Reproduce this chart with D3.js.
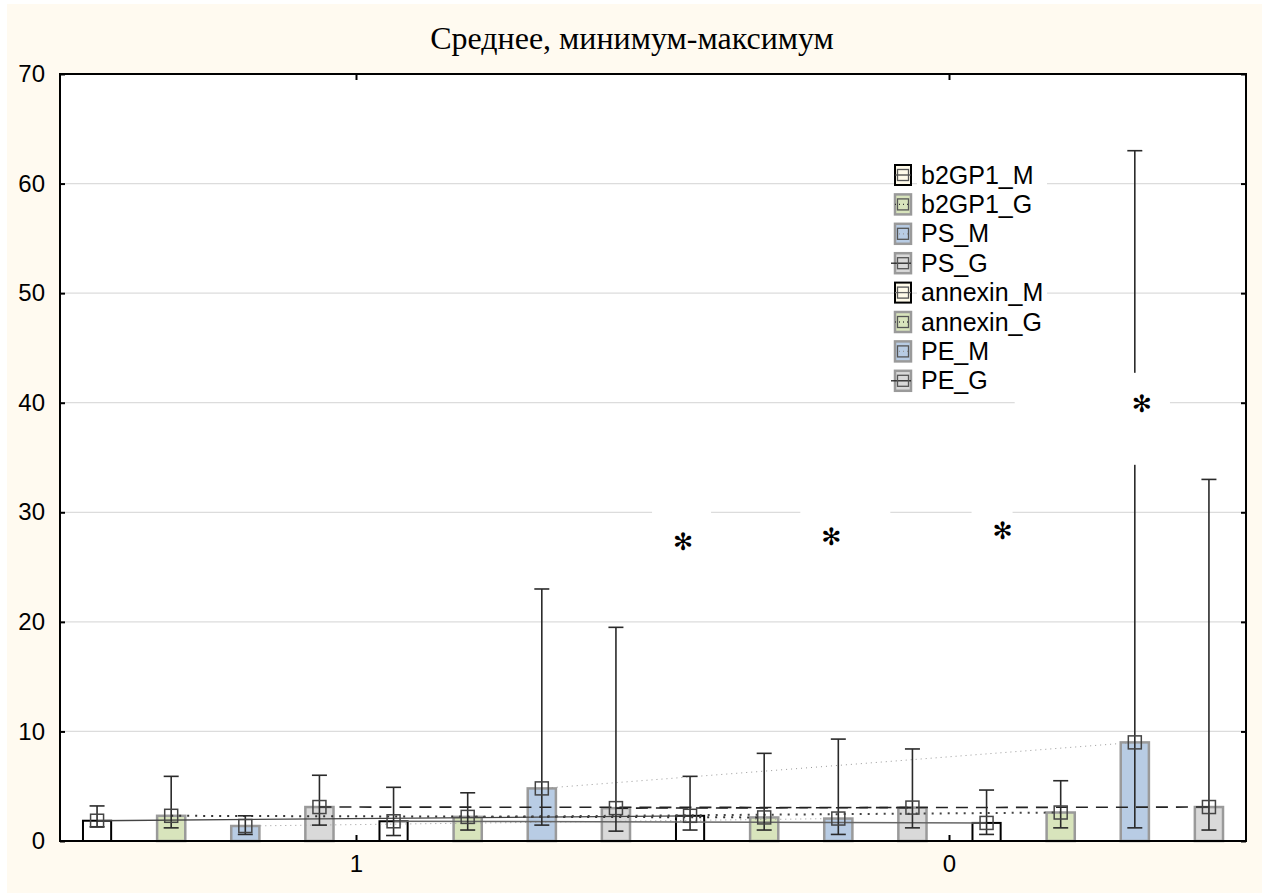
<!DOCTYPE html>
<html>
<head>
<meta charset="utf-8">
<script src="https://cdn.jsdelivr.net/npm/d3@7"></script>
<style>
  body { margin: 0; background: #ffffff; }
  text { font-family: "Liberation Sans", Arial, sans-serif; }
</style>
</head>
<body>
<div id="chart"></div>
<script>
// categories on the x axis and the eight variables
var categories = ["1", "0"];
var seriesNames = ["b2GP1_M", "b2GP1_G", "PS_M", "PS_G", "annexin_M", "annexin_G", "PE_M", "PE_G"];

// mean, minimum, maximum for category "1"
var mean1 = [1.85, 2.3, 1.37, 3.1, 1.8, 2.2, 4.8, 3.0];
var min1  = [1.3, 1.2, 0.6, 1.45, 0.5, 1.0, 1.45, 0.9];
var max1  = [3.2, 5.9, 2.3, 6.0, 4.9, 4.4, 23.0, 19.5];

// mean, minimum, maximum for category "0"
var mean0 = [2.3, 2.15, 2.05, 3.05, 1.65, 2.6, 9.0, 3.1];
var min0  = [1.0, 1.0, 0.6, 1.2, 0.6, 1.2, 1.2, 1.0];
var max0  = [5.9, 8.0, 9.3, 8.4, 4.65, 5.5, 63.0, 33.0];

var yTicks = [0, 10, 20, 30, 40, 50, 60, 70];

// significance marks (series, category, y value)
var starSeries = ["b2GP1_M", "PS_M", "annexin_M", "PE_M"];
var starValues = [27.3, 27.7, 28.3, 39.9];

var svgWidth = 1262, svgHeight = 895;
var margin = { top: 74, right: 16, bottom: 54, left: 60 };
var width = svgWidth - margin.left - margin.right;
var height = svgHeight - margin.top - margin.bottom;

// style per series
var barFill = ["#ffffff", "#d8e4bc", "#b8cce4", "#d9d9d9", "#ffffff", "#d8e4bc", "#b8cce4", "#d9d9d9"];
var barStroke = ["#000", "#9a9a9a", "#9a9a9a", "#9a9a9a", "#000", "#9a9a9a", "#9a9a9a", "#9a9a9a"];
var barStrokeW = [2, 2.5, 2.5, 2.5, 2, 2.5, 2.5, 2.5];
var lineColor = ["#444", "#333", "#999", "#222", "#666", "#444", "#999", "#222"];
var lineWidth = [1.3, 2, 1, 1.6, 1.5, 2, 1, 1.6];
var lineDash = [null, "2,6", "1,4", "12,8", null, "2,6", "1,4", "12,8"];

var rows = [];
categories.forEach(function(c, ci) {
    seriesNames.forEach(function(s, si) {
        rows.push({
            cat: c, series: s, si: si,
            mean: ci === 0 ? mean1[si] : mean0[si],
            min: ci === 0 ? min1[si] : min0[si],
            max: ci === 0 ? max1[si] : max0[si]
        });
    });
});

var svg = d3.select("#chart").append("svg")
    .attr("width", svgWidth)
    .attr("height", svgHeight);

svg.append("rect")
    .attr("x", 7).attr("y", 4)
    .attr("width", svgWidth - 7).attr("height", svgHeight - 6)
    .attr("fill", "#fffaf0");

svg.append("text")
    .attr("x", 632).attr("y", 49)
    .attr("text-anchor", "middle")
    .style("font-family", "'Liberation Serif', 'Times New Roman', serif")
    .style("font-size", "32px")
    .text("Среднее, минимум-максимум");

var g = svg.append("g")
    .attr("transform", "translate(" + margin.left + "," + margin.top + ")");

g.append("rect")
    .attr("width", width).attr("height", height)
    .attr("fill", "#ffffff");

var x0 = d3.scaleBand().domain(categories).range([0, width]);
var x1 = d3.scaleBand().domain(seriesNames).range([0, x0.bandwidth()]);
var y = d3.scaleLinear().domain([0, 70]).range([height, 0]);

var barW = x1.bandwidth() * 0.38;
function cx(d) { return x0(d.cat) + x1(d.series) + x1.bandwidth() / 2; }

// grid
g.append("g").selectAll("line")
    .data(yTicks.filter(function(t) { return t > 0 && t < 70; }))
    .enter().append("line")
    .attr("x1", 0).attr("x2", width)
    .attr("y1", function(d) { return y(d); })
    .attr("y2", function(d) { return y(d); })
    .attr("stroke", "#dcdcdc").attr("stroke-width", 1.2);

// bars
g.append("g").selectAll("rect")
    .data(rows)
    .enter().append("rect")
    .attr("x", function(d) { return cx(d) - barW / 2; })
    .attr("y", function(d) { return y(d.mean); })
    .attr("width", barW)
    .attr("height", function(d) { return y(0) - y(d.mean); })
    .attr("fill", function(d) { return barFill[d.si]; })
    .attr("stroke", function(d) { return barStroke[d.si]; })
    .attr("stroke-width", function(d) { return barStrokeW[d.si]; });

// lines joining the means of each series
var line = d3.line().x(function(d) { return cx(d); }).y(function(d) { return y(d.mean); });
seriesNames.forEach(function(s, si) {
    g.append("path")
        .datum(rows.filter(function(r) { return r.series === s; }))
        .attr("d", line)
        .attr("fill", "none")
        .attr("stroke", lineColor[si])
        .attr("stroke-width", lineWidth[si])
        .attr("stroke-dasharray", lineDash[si]);
});

// white boxes behind the star marks: [left, right, above, below] in px around the mark
var starBoxes = [[-38, 21, 32, 60], [-38, 52, 32, 60], [-15, 26, 32, 60], [-120, 35, 31, 61]];
var starShift = [-7, -7, 16, 7];
var stars = starSeries.map(function(s, i) {
    return { cat: "0", series: s, value: starValues[i], box: starBoxes[i], dx: starShift[i] };
});
g.append("g").selectAll("rect")
    .data(stars)
    .enter().append("rect")
    .attr("x", function(d) { return cx(d) + d.box[0]; })
    .attr("y", function(d) { return y(d.value) - d.box[2]; })
    .attr("width", function(d) { return d.box[1] - d.box[0]; })
    .attr("height", function(d) { return d.box[2] + d.box[3]; })
    .attr("fill", "#ffffff");

// whiskers
var eb = g.append("g").attr("stroke", "#2a2a2a").attr("stroke-width", 1.6);
eb.selectAll(".v").data(rows).enter().append("line")
    .attr("x1", cx).attr("x2", cx)
    .attr("y1", function(d) { return y(d.min); })
    .attr("y2", function(d) { return y(d.max); });
eb.selectAll(".lo").data(rows).enter().append("line")
    .attr("x1", function(d) { return cx(d) - 7.5; }).attr("x2", function(d) { return cx(d) + 7.5; })
    .attr("y1", function(d) { return y(d.min); }).attr("y2", function(d) { return y(d.min); });
eb.selectAll(".hi").data(rows).enter().append("line")
    .attr("x1", function(d) { return cx(d) - 7.5; }).attr("x2", function(d) { return cx(d) + 7.5; })
    .attr("y1", function(d) { return y(d.max); }).attr("y2", function(d) { return y(d.max); });

// white box cut over the long PE_M whisker
g.append("rect")
    .datum(stars[3])
    .attr("x", function(d) { return cx(d) + d.box[0]; })
    .attr("y", function(d) { return y(d.value) - d.box[2]; })
    .attr("width", function(d) { return d.box[1] - d.box[0]; })
    .attr("height", function(d) { return d.box[2] + d.box[3]; })
    .attr("fill", "#ffffff");

// mean markers
g.append("g").selectAll("rect")
    .data(rows)
    .enter().append("rect")
    .attr("x", function(d) { return cx(d) - 6.5; })
    .attr("y", function(d) { return y(d.mean) - 6.5; })
    .attr("width", 13).attr("height", 13)
    .attr("fill", "none")
    .attr("stroke", "#444").attr("stroke-width", 1.5);

// star marks
g.append("g").selectAll("text")
    .data(stars)
    .enter().append("text")
    .attr("x", function(d) { return cx(d) + d.dx; })
    .attr("y", function(d) { return y(d.value); })
    .attr("text-anchor", "middle")
    .attr("dominant-baseline", "central")
    .style("font-family", "'DejaVu Sans', sans-serif")
    .style("font-size", "24px")
    .attr("fill", "#000")
    .text("\u273B");

// axes frame and ticks
g.append("rect")
    .attr("width", width).attr("height", height)
    .attr("fill", "none").attr("stroke", "#000").attr("stroke-width", 2);

var yAxisL = g.append("g").call(d3.axisLeft(y).tickValues(yTicks).tickSize(-5).tickPadding(15));
var yAxisR = g.append("g").attr("transform", "translate(" + width + ",0)")
    .call(d3.axisRight(y).tickValues(yTicks).tickSize(-5).tickFormat(""));
var xAxisB = g.append("g").attr("transform", "translate(0," + height + ")")
    .call(d3.axisBottom(x0).tickSize(-6).tickPadding(14));
var xAxisT = g.append("g")
    .call(d3.axisTop(x0).tickSize(-6).tickFormat(""));
[yAxisL, yAxisR, xAxisB, xAxisT].forEach(function(a) {
    a.select(".domain").remove();
    a.selectAll(".tick line").attr("stroke", "#000").attr("stroke-width", 2);
    a.selectAll("text").style("font-family", "'Liberation Sans', Arial, sans-serif")
        .style("font-size", "24px").attr("fill", "#000");
});

// legend
var legend = svg.append("g").attr("transform", "translate(893,175)");
var item = legend.selectAll("g").data(seriesNames).enter().append("g")
    .attr("transform", function(d, i) { return "translate(0," + (i * 29.4) + ")"; });
item.append("rect")
    .attr("x", 24).attr("y", -13).attr("width", 130).attr("height", 26)
    .attr("fill", "#ffffff");
item.append("rect")
    .attr("x", 2).attr("y", -10).attr("width", 16).attr("height", 20)
    .attr("fill", function(d, i) { return i % 4 === 0 ? "#fffbea" : barFill[i]; })
    .attr("stroke", function(d, i) { return barStroke[i]; })
    .attr("stroke-width", function(d, i) { return barStrokeW[i]; });
item.append("line")
    .attr("x1", function(d, i) { return i % 4 === 3 ? -2 : 2; }).attr("x2", 18)
    .attr("y1", 0).attr("y2", 0)
    .attr("stroke", function(d, i) { return lineColor[i]; })
    .attr("stroke-width", 1.3)
    .attr("stroke-dasharray", function(d, i) { return i % 4 === 0 || i % 4 === 3 ? null : "1,3"; });
item.append("rect")
    .attr("x", 4.5).attr("y", -5.5).attr("width", 11).attr("height", 11)
    .attr("fill", "none").attr("stroke", "#555").attr("stroke-width", 1.3);
item.append("text")
    .attr("x", 28).attr("y", 8.5)
    .style("font-size", "25px")
    .text(function(d) { return d; });
</script>
</body>
</html>
